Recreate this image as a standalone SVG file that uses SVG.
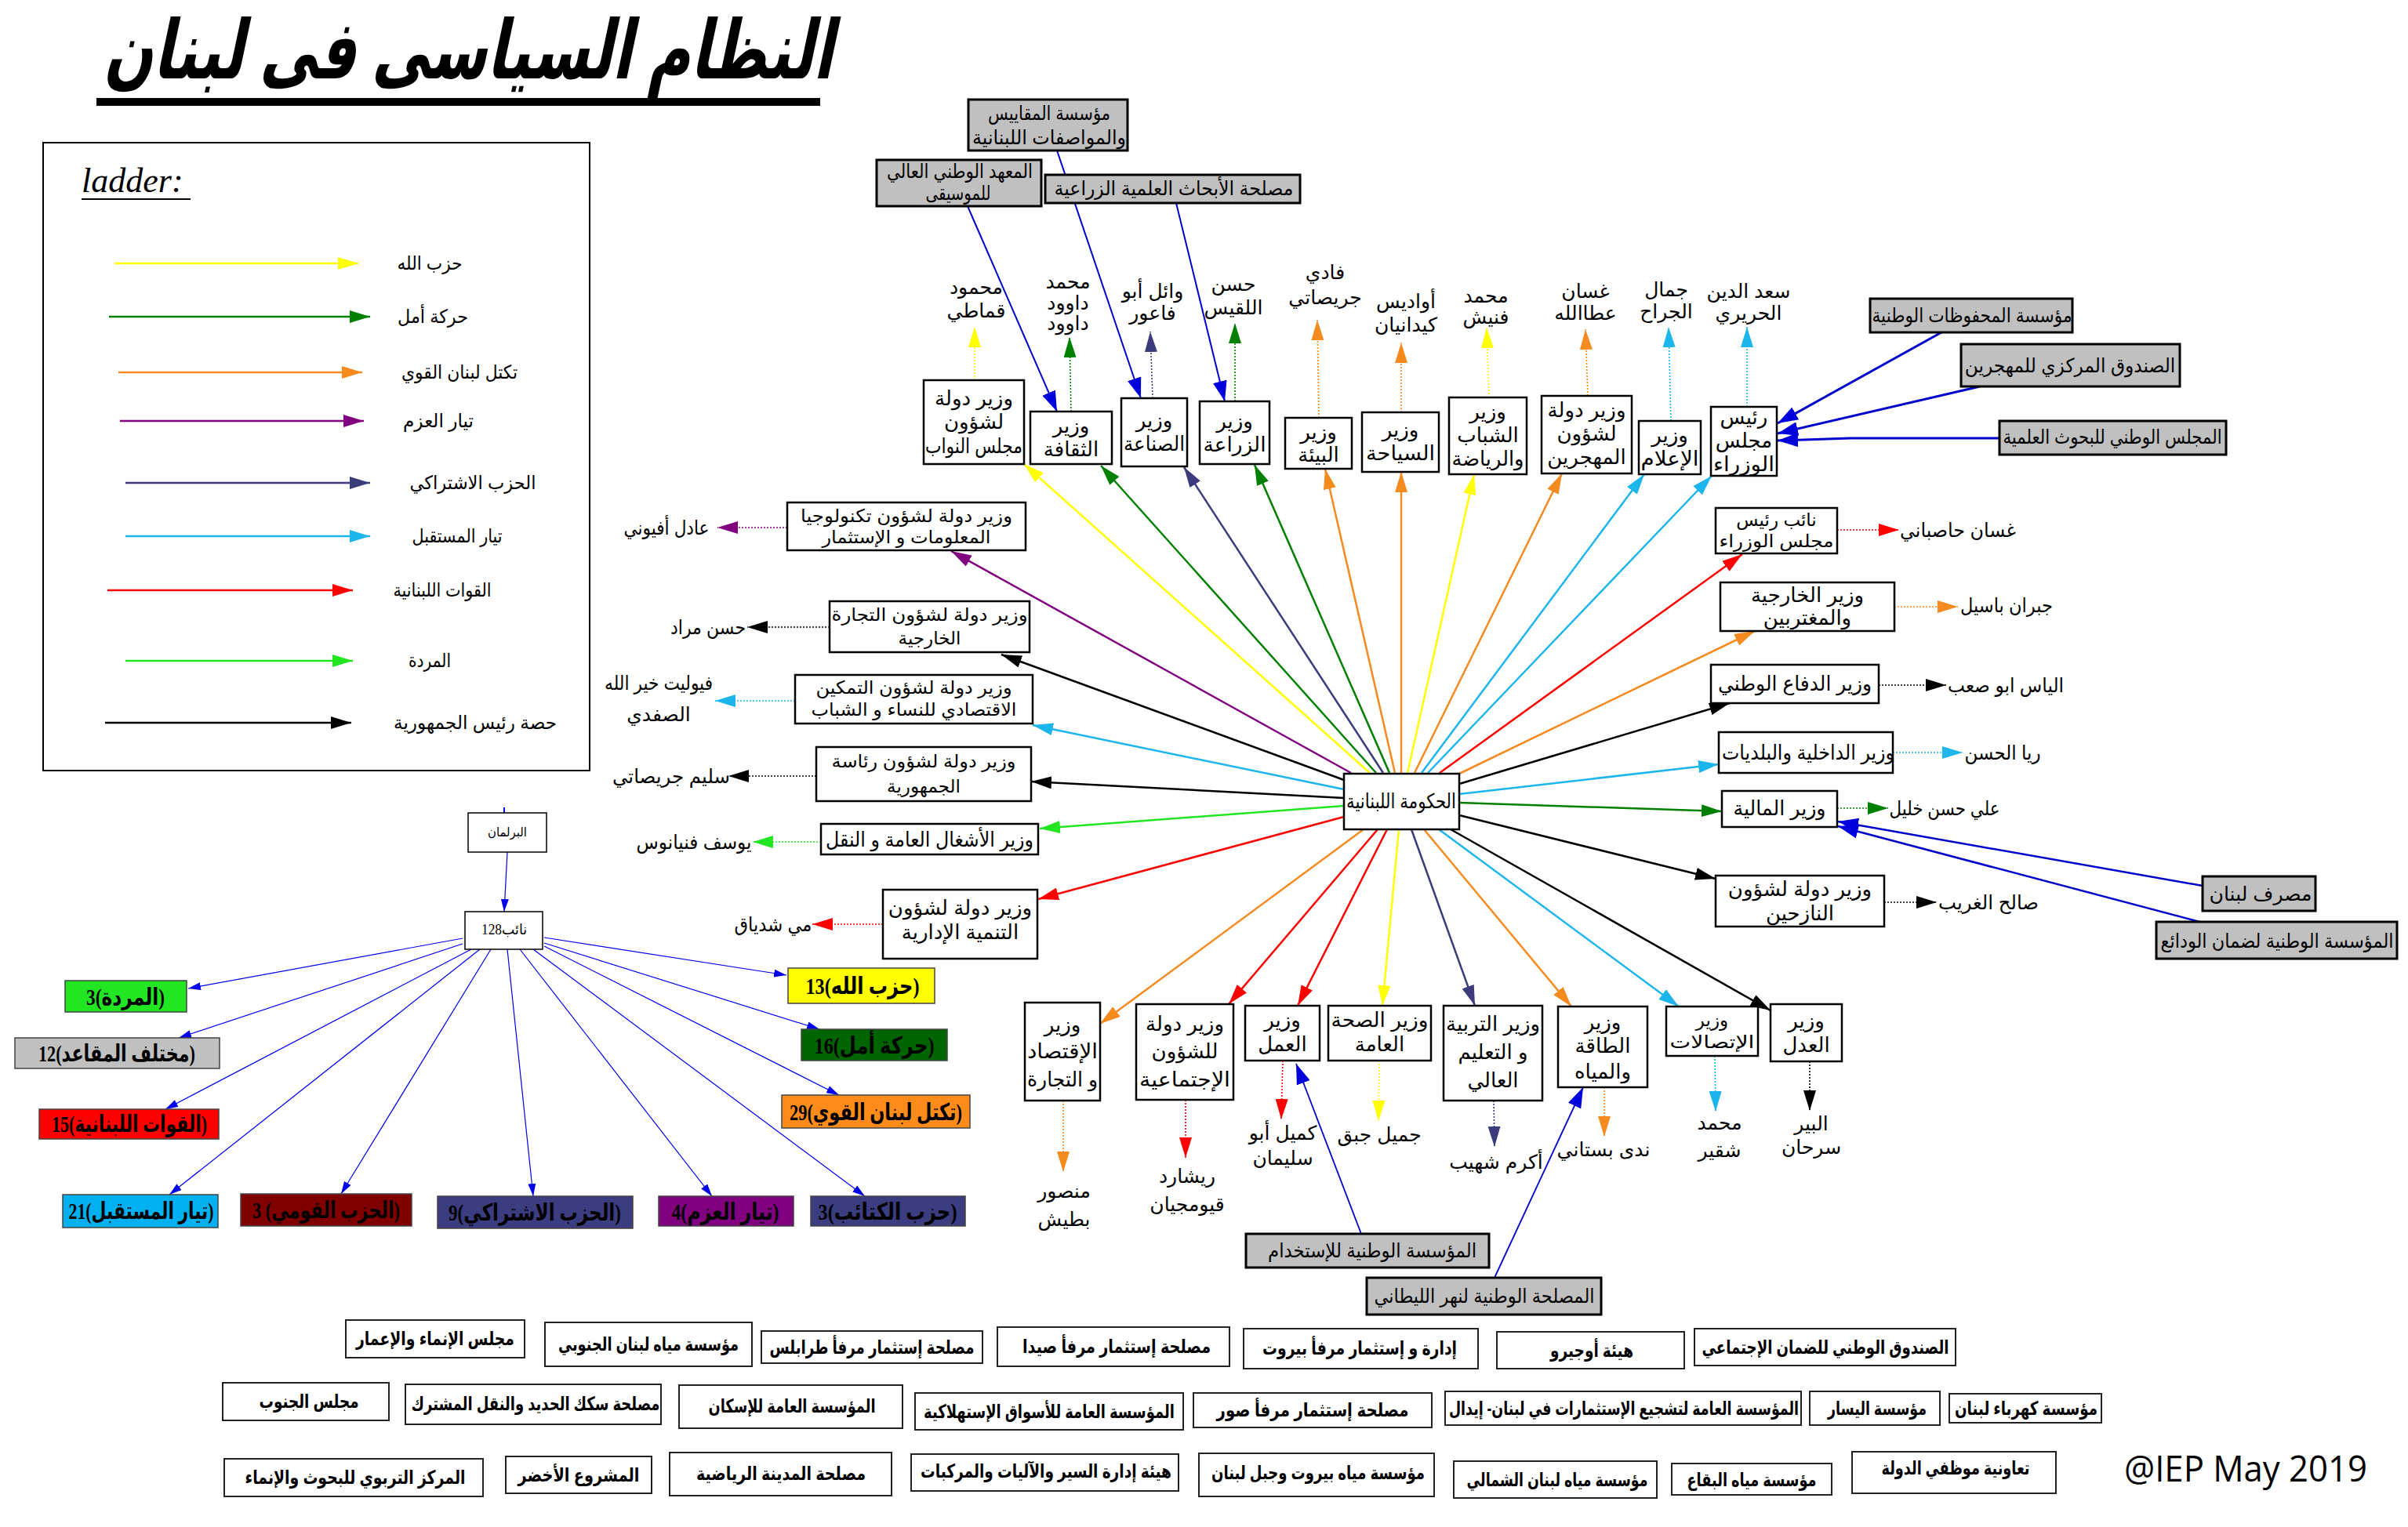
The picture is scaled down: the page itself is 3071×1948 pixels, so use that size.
<svg xmlns="http://www.w3.org/2000/svg" width="3071" height="1948" viewBox="0 0 3071 1948">
<style>
text{font-family:"Liberation Sans","DejaVu Sans",sans-serif;fill:#000;text-anchor:middle}
.box{fill:#fff;stroke:#000;stroke-width:2.5}
.gbox{fill:#c0c0c0;stroke:#000;stroke-width:3}
.lbox{fill:#fff;stroke:#222;stroke-width:2}
.t{font-size:26px}
.s{font-size:23px}
.n{font-size:25px}
.lg{font-size:24px}
.bl{font-size:24px;font-weight:bold}
.gt{font-size:25px}
.pt{font-family:"Liberation Serif","DejaVu Sans",serif;font-size:30px;font-weight:bold}
.e{fill:none;stroke-width:2.5}
.d{fill:none;stroke-width:1.6;stroke-dasharray:2 2}
.b{fill:none;stroke:#0000cc}
.pb{fill:none;stroke:#0000ee;stroke-width:1.2}
</style>
<defs>
<marker id="mY" viewBox="0 0 26 16" refX="26" refY="8" markerWidth="26" markerHeight="16" markerUnits="userSpaceOnUse" orient="auto"><path d="M0,0L26,8L0,16z" fill="#ffff00"/></marker>
<marker id="mG" viewBox="0 0 26 16" refX="26" refY="8" markerWidth="26" markerHeight="16" markerUnits="userSpaceOnUse" orient="auto"><path d="M0,0L26,8L0,16z" fill="#008000"/></marker>
<marker id="mO" viewBox="0 0 26 16" refX="26" refY="8" markerWidth="26" markerHeight="16" markerUnits="userSpaceOnUse" orient="auto"><path d="M0,0L26,8L0,16z" fill="#f58a1f"/></marker>
<marker id="mP" viewBox="0 0 26 16" refX="26" refY="8" markerWidth="26" markerHeight="16" markerUnits="userSpaceOnUse" orient="auto"><path d="M0,0L26,8L0,16z" fill="#800080"/></marker>
<marker id="mS" viewBox="0 0 26 16" refX="26" refY="8" markerWidth="26" markerHeight="16" markerUnits="userSpaceOnUse" orient="auto"><path d="M0,0L26,8L0,16z" fill="#3c3c7c"/></marker>
<marker id="mC" viewBox="0 0 26 16" refX="26" refY="8" markerWidth="26" markerHeight="16" markerUnits="userSpaceOnUse" orient="auto"><path d="M0,0L26,8L0,16z" fill="#1cb6ec"/></marker>
<marker id="mR" viewBox="0 0 26 16" refX="26" refY="8" markerWidth="26" markerHeight="16" markerUnits="userSpaceOnUse" orient="auto"><path d="M0,0L26,8L0,16z" fill="#ff0000"/></marker>
<marker id="mL" viewBox="0 0 26 16" refX="26" refY="8" markerWidth="26" markerHeight="16" markerUnits="userSpaceOnUse" orient="auto"><path d="M0,0L26,8L0,16z" fill="#22e622"/></marker>
<marker id="mK" viewBox="0 0 26 16" refX="26" refY="8" markerWidth="26" markerHeight="16" markerUnits="userSpaceOnUse" orient="auto"><path d="M0,0L26,8L0,16z" fill="#000"/></marker>
<marker id="mB" viewBox="0 0 26 18" refX="26" refY="9" markerWidth="26" markerHeight="18" markerUnits="userSpaceOnUse" orient="auto"><path d="M0,0L26,9L0,18z" fill="#0000dd"/></marker>
<marker id="mb" viewBox="0 0 16 10" refX="16" refY="5" markerWidth="16" markerHeight="10" markerUnits="userSpaceOnUse" orient="auto"><path d="M0,0L16,5L0,10z" fill="#0000ee"/></marker>
</defs>
<rect width="3071" height="1948" fill="#fff"/>

<g id="title">
<g transform="translate(597,100) skewX(-12)"><text x="0" y="0" font-size="104" font-weight="bold" textLength="930" lengthAdjust="spacingAndGlyphs">النظام السياسى فى لبنان</text></g>
<rect x="123" y="125" width="923" height="10" fill="#000"/>
</g>

<g id="legend">
<rect x="55" y="182" width="697" height="801" fill="none" stroke="#000" stroke-width="2"/>
<text x="104" y="245" font-size="44" style="text-anchor:start;font-family:'Liberation Serif',serif;font-style:italic">ladder:</text>
<line x1="104" y1="254" x2="243" y2="254" stroke="#000" stroke-width="2"/>
<path class="e" stroke="#ffff00" d="M146,336H457" marker-end="url(#mY)"/>
<path class="e" stroke="#008000" d="M139,404H472" marker-end="url(#mG)"/>
<path class="e" stroke="#f58a1f" d="M151,475H462" marker-end="url(#mO)"/>
<path class="e" stroke="#800080" d="M153,537H464" marker-end="url(#mP)" stroke-width="2"/>
<path class="e" stroke="#3c3c7c" d="M160,616H472" marker-end="url(#mS)" stroke-width="1.6"/>
<path class="e" stroke="#1cb6ec" d="M160,684H472" marker-end="url(#mC)"/>
<path class="e" stroke="#ff0000" d="M137,753H450" marker-end="url(#mR)" stroke-width="2"/>
<path class="e" stroke="#22e622" d="M160,843H450" marker-end="url(#mL)"/>
<path class="e" stroke="#000" d="M134,922H448" marker-end="url(#mK)"/>
<text class="lg" x="548" y="344" textLength="83" lengthAdjust="spacingAndGlyphs">حزب الله</text>
<text class="lg" x="552" y="412" textLength="90" lengthAdjust="spacingAndGlyphs">حركة أمل</text>
<text class="lg" x="586" y="483" textLength="148" lengthAdjust="spacingAndGlyphs">تكتل لبنان القوي</text>
<text class="lg" x="559" y="545" textLength="90" lengthAdjust="spacingAndGlyphs">تيار العزم</text>
<text class="lg" x="603" y="624" textLength="161" lengthAdjust="spacingAndGlyphs">الحزب الاشتراكي</text>
<text class="lg" x="583" y="692" textLength="115" lengthAdjust="spacingAndGlyphs">تيار المستقبل</text>
<text class="lg" x="564" y="761" textLength="125" lengthAdjust="spacingAndGlyphs">القوات اللبنانية</text>
<text class="lg" x="548" y="851" textLength="54" lengthAdjust="spacingAndGlyphs">المردة</text>
<text class="lg" x="606" y="930" textLength="208" lengthAdjust="spacingAndGlyphs">حصة رئيس الجمهورية</text>
</g>

<g id="edges">
<path class="e" stroke="#ffff00" d="M1747,986L1306,592" marker-end="url(#mY)"/>
<path class="e" stroke="#008000" d="M1755,986L1404,594" marker-end="url(#mG)"/>
<path class="e" stroke="#3c3c7c" d="M1764,986L1510,596" marker-end="url(#mS)" stroke-width="2"/>
<path class="e" stroke="#008000" d="M1772,986L1600,593" marker-end="url(#mG)"/>
<path class="e" stroke="#f58a1f" d="M1779,986L1690,598" marker-end="url(#mO)"/>
<path class="e" stroke="#f58a1f" d="M1787,986L1787,602" marker-end="url(#mO)"/>
<path class="e" stroke="#ffff00" d="M1795,986L1880,605" marker-end="url(#mY)"/>
<path class="e" stroke="#f58a1f" d="M1804,986L1992,604" marker-end="url(#mO)"/>
<path class="e" stroke="#1cb6ec" d="M1813,986L2097,605" marker-end="url(#mC)"/>
<path class="e" stroke="#1cb6ec" d="M1821,986L2183,607" marker-end="url(#mC)"/>
<path class="e" stroke="#800080" d="M1723,986L1213,703" marker-end="url(#mP)"/>
<path class="e" stroke="#000" d="M1714,995L1277,835" marker-end="url(#mK)"/>
<path class="e" stroke="#1cb6ec" d="M1714,1007L1317,925" marker-end="url(#mC)"/>
<path class="e" stroke="#000" d="M1714,1018L1315,997" marker-end="url(#mK)"/>
<path class="e" stroke="#22e622" d="M1714,1028L1326,1057" marker-end="url(#mL)"/>
<path class="e" stroke="#ff0000" d="M1714,1042L1324,1147" marker-end="url(#mR)" stroke-width="2"/>
<path class="e" stroke="#ff0000" d="M1836,986L2222,707" marker-end="url(#mR)" stroke-width="2"/>
<path class="e" stroke="#f58a1f" d="M1861,987L2238,805" marker-end="url(#mO)"/>
<path class="e" stroke="#000" d="M1861,1000L2206,897" marker-end="url(#mK)"/>
<path class="e" stroke="#1cb6ec" d="M1861,1013L2192,975" marker-end="url(#mC)"/>
<path class="e" stroke="#008000" d="M1861,1024L2196,1035" marker-end="url(#mG)"/>
<path class="e" stroke="#000" d="M1861,1040L2188,1121" marker-end="url(#mK)"/>
<path class="e" stroke="#f58a1f" d="M1739,1058L1403,1306" marker-end="url(#mO)"/>
<path class="e" stroke="#ff0000" d="M1757,1058L1567,1281" marker-end="url(#mR)" stroke-width="2"/>
<path class="e" stroke="#ff0000" d="M1769,1058L1655,1283" marker-end="url(#mR)" stroke-width="2"/>
<path class="e" stroke="#ffff00" d="M1784,1058L1763,1283" marker-end="url(#mY)"/>
<path class="e" stroke="#3c3c7c" d="M1800,1058L1881,1283" marker-end="url(#mS)" stroke-width="2"/>
<path class="e" stroke="#f58a1f" d="M1816,1058L2004,1284" marker-end="url(#mO)"/>
<path class="e" stroke="#1cb6ec" d="M1835,1058L2141,1284" marker-end="url(#mC)"/>
<path class="e" stroke="#000" d="M1850,1058L2258,1289" marker-end="url(#mK)"/>
<path class="d" stroke="#ffff00" d="M1243,485V417" marker-end="url(#mY)"/>
<path class="d" stroke="#008000" d="M1366,525L1364,430" marker-end="url(#mG)"/>
<path class="d" stroke="#3c3c7c" d="M1470,508L1467,423" marker-end="url(#mS)"/>
<path class="d" stroke="#008000" d="M1575,512V412" marker-end="url(#mG)"/>
<path class="d" stroke="#f58a1f" d="M1682,533L1680,408" marker-end="url(#mO)"/>
<path class="d" stroke="#f58a1f" d="M1787,526V437" marker-end="url(#mO)"/>
<path class="d" stroke="#ffff00" d="M1899,507L1896,418" marker-end="url(#mY)"/>
<path class="d" stroke="#f58a1f" d="M2025,505L2022,420" marker-end="url(#mO)"/>
<path class="d" stroke="#1cb6ec" d="M2131,537L2128,417" marker-end="url(#mC)"/>
<path class="d" stroke="#1cb6ec" d="M2228,519V417" marker-end="url(#mC)"/>
<path class="d" stroke="#800080" d="M1004,673H915" marker-end="url(#mP)"/>
<path class="d" stroke="#000" d="M1058,800H953" marker-end="url(#mK)"/>
<path class="d" stroke="#1cb6ec" d="M1014,894H912" marker-end="url(#mC)"/>
<path class="d" stroke="#000" d="M1041,990H929" marker-end="url(#mK)"/>
<path class="d" stroke="#22e622" d="M1047,1074H960" marker-end="url(#mL)"/>
<path class="d" stroke="#ff0000" d="M1126,1179H1036" marker-end="url(#mR)"/>
<path class="d" stroke="#ff0000" d="M2343,676H2422" marker-end="url(#mR)"/>
<path class="d" stroke="#f58a1f" d="M2416,774H2497" marker-end="url(#mO)"/>
<path class="d" stroke="#000" d="M2396,874H2482" marker-end="url(#mK)"/>
<path class="d" stroke="#1cb6ec" d="M2414,960H2503" marker-end="url(#mC)"/>
<path class="d" stroke="#008000" d="M2343,1031H2408" marker-end="url(#mG)"/>
<path class="d" stroke="#000" d="M2403,1151H2470" marker-end="url(#mK)"/>
<path class="d" stroke="#f58a1f" d="M1356,1404V1495" marker-end="url(#mO)"/>
<path class="d" stroke="#ff0000" d="M1512,1403V1477" marker-end="url(#mR)"/>
<path class="d" stroke="#ff0000" d="M1636,1353L1634,1428" marker-end="url(#mR)"/>
<path class="d" stroke="#ffff00" d="M1759,1353L1758,1430" marker-end="url(#mY)"/>
<path class="d" stroke="#3c3c7c" d="M1905,1404L1906,1463" marker-end="url(#mS)"/>
<path class="d" stroke="#f58a1f" d="M2046,1387V1450" marker-end="url(#mO)"/>
<path class="d" stroke="#1cb6ec" d="M2187,1347L2188,1418" marker-end="url(#mC)"/>
<path class="d" stroke="#000" d="M2308,1354V1417" marker-end="url(#mK)"/>
<path class="b" stroke-width="2" d="M1234,263L1348,525" marker-end="url(#mB)"/>
<path class="b" stroke-width="2" d="M1348,192L1455,508" marker-end="url(#mB)"/>
<path class="b" stroke-width="2" d="M1500,259L1562,512" marker-end="url(#mB)"/>
<path class="b" stroke-width="3" d="M2476,424L2267,540" marker-end="url(#mB)"/>
<path class="b" stroke-width="3" d="M2525,493L2267,553" marker-end="url(#mB)"/>
<path class="b" stroke-width="3" d="M2550,559H2360L2267,562" marker-end="url(#mB)"/>
<path class="b" stroke-width="2.5" d="M2809,1130L2344,1048" marker-end="url(#mB)"/>
<path class="b" stroke-width="2.5" d="M2813,1178L2344,1054" marker-end="url(#mB)"/>
<path class="b" stroke-width="1.8" d="M1736,1574L1653,1357" marker-end="url(#mB)"/>
<path class="b" stroke-width="1.8" d="M1906,1630L2019,1387" marker-end="url(#mB)"/>
<line x1="643" y1="1030" x2="643" y2="1037" stroke="#0000ee" stroke-width="2"/>
<path class="pb" d="M647,1087L643,1163" marker-end="url(#mb)"/>
<path class="pb" d="M694,1196L1003,1244" marker-end="url(#mb)"/>
<path class="pb" d="M694,1203L1045,1313" marker-end="url(#mb)"/>
<path class="pb" d="M694,1207L1070,1397" marker-end="url(#mb)"/>
<path class="pb" d="M680,1211L1103,1526" marker-end="url(#mb)"/>
<path class="pb" d="M663,1211L908,1526" marker-end="url(#mb)"/>
<path class="pb" d="M647,1211L680,1526" marker-end="url(#mb)"/>
<path class="pb" d="M626,1211L435,1523" marker-end="url(#mb)"/>
<path class="pb" d="M612,1211L216,1524" marker-end="url(#mb)"/>
<path class="pb" d="M601,1211L211,1415" marker-end="url(#mb)"/>
<path class="pb" d="M590,1204L228,1324" marker-end="url(#mb)"/>
<path class="pb" d="M590,1197L240,1261" marker-end="url(#mb)"/>
</g>

<g id="gov"><rect class="box" x="1714" y="987" width="147" height="71"/><text class="t" x="1787" y="1031" textLength="140" lengthAdjust="spacingAndGlyphs">الحكومة اللبنانية</text></g>

<g id="m_nawab"><rect class="box" x="1178" y="485" width="128" height="107"/><text class="t" x="1242" y="517">وزير دولة</text><text class="t" x="1242" y="547">لشؤون</text><text class="t" x="1242" y="578" textLength="124" lengthAdjust="spacingAndGlyphs">مجلس النواب</text></g>
<g id="m_thaqafa"><rect class="box" x="1314" y="525" width="104" height="67"/><text class="t" x="1366" y="552">وزير</text><text class="t" x="1366" y="582">الثقافة</text></g>
<g id="m_sinaa"><rect class="box" x="1430" y="508" width="84" height="87"/><text class="t" x="1472" y="545">وزير</text><text class="t" x="1472" y="575" textLength="78" lengthAdjust="spacingAndGlyphs">الصناعة</text></g>
<g id="m_ziraa"><rect class="box" x="1530" y="512" width="89" height="80"/><text class="t" x="1574.5" y="546">وزير</text><text class="t" x="1574.5" y="576" textLength="80" lengthAdjust="spacingAndGlyphs">الزراعة</text></g>
<g id="m_biaa"><rect class="box" x="1639" y="533" width="85" height="65"/><text class="t" x="1681.5" y="560">وزير</text><text class="t" x="1681.5" y="589">البيئة</text></g>
<g id="m_siyaha"><rect class="box" x="1737" y="526" width="98" height="76"/><text class="t" x="1786" y="557">وزير</text><text class="t" x="1786" y="587" textLength="88" lengthAdjust="spacingAndGlyphs">السياحة</text></g>
<g id="m_shabab"><rect class="box" x="1848" y="507" width="99" height="98"/><text class="t" x="1897.5" y="534">وزير</text><text class="t" x="1897.5" y="564">الشباب</text><text class="t" x="1897.5" y="594" textLength="92" lengthAdjust="spacingAndGlyphs">والرياضة</text></g>
<g id="m_muhajjarin"><rect class="box" x="1966" y="505" width="115" height="99"/><text class="t" x="2023.5" y="532">وزير دولة</text><text class="t" x="2023.5" y="562">لشؤون</text><text class="t" x="2023.5" y="592">المهجرين</text></g>
<g id="m_ilam"><rect class="box" x="2090" y="537" width="79" height="68"/><text class="t" x="2129.5" y="564">وزير</text><text class="t" x="2129.5" y="594" textLength="74" lengthAdjust="spacingAndGlyphs">الإعلام</text></g>
<g id="m_rais"><rect class="box" x="2182" y="519" width="84" height="88"/><text class="t" x="2224" y="541">رئيس</text><text class="t" x="2224" y="571">مجلس</text><text class="t" x="2224" y="601" textLength="78" lengthAdjust="spacingAndGlyphs">الوزراء</text></g>

<g id="p_qamati"><text class="n" x="1245" y="375">محمود</text><text class="n" x="1245" y="405">قماطي</text></g>
<g id="p_daoud"><text class="n" x="1362" y="368">محمد</text><text class="n" x="1362" y="395">داوود</text><text class="n" x="1362" y="421">داوود</text></g>
<g id="p_abufaour"><text class="n" x="1470" y="380">وائل أبو</text><text class="n" x="1470" y="408">فاعور</text></g>
<g id="p_laqis"><text class="n" x="1573" y="371">حسن</text><text class="n" x="1573" y="401">اللقيس</text></g>
<g id="p_fadi"><text class="n" x="1690" y="356">فادي</text><text class="n" x="1690" y="388">جريصاتي</text></g>
<g id="p_kidanian"><text class="n" x="1793" y="393">أواديس</text><text class="n" x="1793" y="423">كيدانيان</text></g>
<g id="p_fneish"><text class="n" x="1895" y="386">محمد</text><text class="n" x="1895" y="413">فنيش</text></g>
<g id="p_atallah"><text class="n" x="2022" y="380">غسان</text><text class="n" x="2022" y="408">عطاالله</text></g>
<g id="p_jarrah"><text class="n" x="2125" y="378">جمال</text><text class="n" x="2125" y="406">الجراح</text></g>
<g id="p_hariri"><text class="n" x="2230" y="380">سعد الدين</text><text class="n" x="2230" y="408">الحريري</text></g>

<g id="m_tech"><rect class="box" x="1004" y="641" width="304" height="61"/><text class="s" x="1156" y="666" textLength="270" lengthAdjust="spacingAndGlyphs">وزير دولة لشؤون تكنولوجيا</text><text class="s" x="1156" y="693" textLength="215" lengthAdjust="spacingAndGlyphs">المعلومات و الإستثمار</text></g>
<g id="m_tijara"><rect class="box" x="1058" y="767" width="255" height="65"/><text class="s" x="1185.5" y="792" textLength="250" lengthAdjust="spacingAndGlyphs">وزير دولة لشؤون التجارة</text><text class="s" x="1185.5" y="822">الخارجية</text></g>
<g id="m_tamkin"><rect class="box" x="1014" y="861" width="303" height="62"/><text class="s" x="1165.5" y="885" textLength="250" lengthAdjust="spacingAndGlyphs">وزير دولة لشؤون التمكين</text><text class="s" x="1165.5" y="913" textLength="262" lengthAdjust="spacingAndGlyphs">الاقتصادي للنساء و الشباب</text></g>
<g id="m_riasa"><rect class="box" x="1041" y="953" width="274" height="69"/><text class="s" x="1178" y="979" textLength="235" lengthAdjust="spacingAndGlyphs">وزير دولة لشؤون رئاسة</text><text class="s" x="1178" y="1011">الجمهورية</text></g>
<g id="m_ashghal"><rect class="box" x="1047" y="1051" width="277" height="39"/><text class="t" x="1185.5" y="1080" textLength="265" lengthAdjust="spacingAndGlyphs">وزير الأشغال العامة و النقل</text></g>
<g id="m_tanmia"><rect class="box" x="1126" y="1135" width="197" height="88"/><text class="t" x="1224.5" y="1167">وزير دولة لشؤون</text><text class="t" x="1224.5" y="1198">التنمية الإدارية</text></g>

<g id="p_afiouni"><text class="n" x="850" y="682" textLength="109" lengthAdjust="spacingAndGlyphs">عادل أفيوني</text></g>
<g id="p_mrad"><text class="n" x="903" y="809" textLength="96" lengthAdjust="spacingAndGlyphs">حسن مراد</text></g>
<g id="p_safadi"><text class="n" x="840" y="880" textLength="138" lengthAdjust="spacingAndGlyphs">فيوليت خير الله</text><text class="n" x="840" y="920">الصفدي</text></g>
<g id="p_salim"><text class="n" x="856" y="999" textLength="150" lengthAdjust="spacingAndGlyphs">سليم جريصاتي</text></g>
<g id="p_fenianos"><text class="n" x="885" y="1083" textLength="147" lengthAdjust="spacingAndGlyphs">يوسف فنيانوس</text></g>
<g id="p_chidiac"><text class="n" x="986" y="1188" textLength="99" lengthAdjust="spacingAndGlyphs">مي شدياق</text></g>

<g id="m_naib"><rect class="box" x="2188" y="648" width="155" height="58"/><text class="s" x="2265.5" y="671">نائب رئيس</text><text class="s" x="2265.5" y="698" textLength="146" lengthAdjust="spacingAndGlyphs">مجلس الوزراء</text></g>
<g id="m_kharijia"><rect class="box" x="2194" y="743" width="222" height="62"/><text class="t" x="2305" y="768">وزير الخارجية</text><text class="t" x="2305" y="797">والمغتربين</text></g>
<g id="m_difaa"><rect class="box" x="2182" y="848" width="214" height="49"/><text class="t" x="2289" y="881" textLength="196" lengthAdjust="spacingAndGlyphs">وزير الدفاع الوطني</text></g>
<g id="m_dakhilia"><rect class="box" x="2192" y="934" width="222" height="52"/><text class="t" x="2306" y="969" textLength="220" lengthAdjust="spacingAndGlyphs">وزير الداخلية والبلديات</text></g>
<g id="m_maliya"><rect class="box" x="2196" y="1009" width="147" height="46"/><text class="t" x="2269.5" y="1040" textLength="118" lengthAdjust="spacingAndGlyphs">وزير المالية</text></g>
<g id="m_nazihin"><rect class="box" x="2188" y="1117" width="215" height="65"/><text class="t" x="2295.5" y="1143">وزير دولة لشؤون</text><text class="t" x="2295.5" y="1174">النازحين</text></g>

<g id="p_hasbani"><text class="n" x="2497" y="685" textLength="148" lengthAdjust="spacingAndGlyphs">غسان حاصباني</text></g>
<g id="p_bassil"><text class="n" x="2559" y="781" textLength="118" lengthAdjust="spacingAndGlyphs">جبران باسيل</text></g>
<g id="p_abusaab"><text class="n" x="2558" y="883" textLength="148" lengthAdjust="spacingAndGlyphs">الياس ابو صعب</text></g>
<g id="p_hassan"><text class="n" x="2554" y="969" textLength="97" lengthAdjust="spacingAndGlyphs">ريا الحسن</text></g>
<g id="p_khalil"><text class="n" x="2480" y="1040" textLength="141" lengthAdjust="spacingAndGlyphs">علي حسن خليل</text></g>
<g id="p_gharib"><text class="n" x="2536" y="1160" textLength="128" lengthAdjust="spacingAndGlyphs">صالح الغريب</text></g>

<g id="m_iqtisad"><rect class="box" x="1307" y="1279" width="96" height="125"/><text class="t" x="1355" y="1316">وزير</text><text class="t" x="1355" y="1350" textLength="90" lengthAdjust="spacingAndGlyphs">الإقتصاد</text><text class="t" x="1355" y="1386" textLength="90" lengthAdjust="spacingAndGlyphs">و التجارة</text></g>
<g id="m_ijtimaia"><rect class="box" x="1449" y="1281" width="124" height="122"/><text class="t" x="1511" y="1315">وزير دولة</text><text class="t" x="1511" y="1350">للشؤون</text><text class="t" x="1511" y="1386" textLength="116" lengthAdjust="spacingAndGlyphs">الإجتماعية</text></g>
<g id="m_amal"><rect class="box" x="1588" y="1283" width="95" height="70"/><text class="t" x="1635.5" y="1310">وزير</text><text class="t" x="1635.5" y="1341">العمل</text></g>
<g id="m_siha"><rect class="box" x="1694" y="1283" width="131" height="70"/><text class="t" x="1759.5" y="1310" textLength="124" lengthAdjust="spacingAndGlyphs">وزير الصحة</text><text class="t" x="1759.5" y="1341">العامة</text></g>
<g id="m_tarbia"><rect class="box" x="1841" y="1283" width="126" height="121"/><text class="t" x="1904" y="1315" textLength="120" lengthAdjust="spacingAndGlyphs">وزير التربية</text><text class="t" x="1904" y="1351">و التعليم</text><text class="t" x="1904" y="1387">العالي</text></g>
<g id="m_taqa"><rect class="box" x="1987" y="1284" width="114" height="103"/><text class="t" x="2044" y="1313">وزير</text><text class="t" x="2044" y="1343">الطاقة</text><text class="t" x="2044" y="1376">والمياه</text></g>
<g id="m_ittisalat"><rect class="box" x="2125" y="1284" width="117" height="63"/><text class="s" x="2183.5" y="1309">وزير</text><text class="s" x="2183.5" y="1337" textLength="108" lengthAdjust="spacingAndGlyphs">الإتصالات</text></g>
<g id="m_adl"><rect class="box" x="2258" y="1281" width="91" height="73"/><text class="t" x="2303.5" y="1311">وزير</text><text class="t" x="2303.5" y="1342">العدل</text></g>

<g id="p_btaish"><text class="n" x="1357" y="1528">منصور</text><text class="n" x="1357" y="1564">بطيش</text></g>
<g id="p_kouyoumjian"><text class="n" x="1514" y="1509">ريشارد</text><text class="n" x="1514" y="1545">قيومجيان</text></g>
<g id="p_abusleiman"><text class="n" x="1636" y="1454">كميل أبو</text><text class="n" x="1636" y="1486">سليمان</text></g>
<g id="p_jabak"><text class="n" x="1759" y="1456">جميل جبق</text></g>
<g id="p_chehayeb"><text class="n" x="1908" y="1491">أكرم شهيب</text></g>
<g id="p_boustani"><text class="n" x="2045" y="1475">ندى بستاني</text></g>
<g id="p_choucair"><text class="n" x="2193" y="1441">محمد</text><text class="n" x="2193" y="1476">شقير</text></g>
<g id="p_serhan"><text class="n" x="2310" y="1442">البير</text><text class="n" x="2310" y="1472">سرحان</text></g>

<g id="g_maqayis"><rect class="gbox" x="1235" y="127" width="203" height="65"/><text class="gt" x="1338" y="153" textLength="156" lengthAdjust="spacingAndGlyphs">مؤسسة المقاييس</text><text class="gt" x="1338" y="184" textLength="196" lengthAdjust="spacingAndGlyphs">والمواصفات اللبنانية</text></g>
<g id="g_music"><rect class="gbox" x="1118" y="204" width="210" height="59"/><text class="gt" x="1224" y="227" textLength="186" lengthAdjust="spacingAndGlyphs">المعهد الوطني العالي</text><text class="gt" x="1222" y="255" textLength="83" lengthAdjust="spacingAndGlyphs">للموسيقى</text></g>
<g id="g_abhath"><rect class="gbox" x="1333" y="223" width="325" height="36"/><text class="gt" x="1497" y="249" textLength="305" lengthAdjust="spacingAndGlyphs">مصلحة الأبحاث العلمية الزراعية</text></g>
<g id="g_mahfuzat"><rect class="gbox" x="2385" y="381" width="258" height="43"/><text class="gt" transform="translate(2515,411) scale(0.85,1)" x="0" y="0" textLength="300" lengthAdjust="spacingAndGlyphs">مؤسسة المحفوظات الوطنية</text></g>
<g id="g_sunduq"><rect class="gbox" x="2501" y="439" width="279" height="54"/><text class="gt" transform="translate(2640,475) scale(0.85,1)" x="0" y="0" textLength="316" lengthAdjust="spacingAndGlyphs">الصندوق المركزي للمهجرين</text></g>
<g id="g_bouhouth"><rect class="gbox" x="2550" y="537" width="289" height="43"/><text class="gt" transform="translate(2694,566) scale(0.8,1)" x="0" y="0" textLength="349" lengthAdjust="spacingAndGlyphs">المجلس الوطني للبحوث العلمية</text></g>
<g id="g_masraf"><rect class="gbox" x="2809" y="1118" width="144" height="44"/><text class="gt" x="2883" y="1149" textLength="131" lengthAdjust="spacingAndGlyphs">مصرف لبنان</text></g>
<g id="g_wadaea"><rect class="gbox" x="2750" y="1176" width="307" height="47"/><text class="gt" transform="translate(2904,1209) scale(0.75,1)" x="0" y="0" textLength="396" lengthAdjust="spacingAndGlyphs">المؤسسة الوطنية لضمان الودائع</text></g>
<g id="g_istikhdam"><rect class="gbox" x="1589" y="1574" width="310" height="43"/><text class="gt" x="1750" y="1604" textLength="266" lengthAdjust="spacingAndGlyphs">المؤسسة الوطنية للإستخدام</text></g>
<g id="g_litani"><rect class="gbox" x="1743" y="1630" width="299" height="47"/><text class="gt" x="1893" y="1662" textLength="281" lengthAdjust="spacingAndGlyphs">المصلحة الوطنية لنهر الليطاني</text></g>

<g id="parl"><rect x="597" y="1037" width="100" height="50" fill="#fff" stroke="#000" stroke-width="1.5"/><text x="647" y="1067" font-size="16" textLength="50" lengthAdjust="spacingAndGlyphs">البرلمان</text></g>
<g id="deputies"><rect x="593" y="1163" width="99" height="48" fill="#fff" stroke="#000" stroke-width="1.5"/><text x="643" y="1192" style="font-family:'Liberation Serif','DejaVu Sans',serif;font-size:18px" textLength="58" lengthAdjust="spacingAndGlyphs">128نائب</text></g>
<g id="pty_marada"><rect x="83" y="1251" width="155" height="40" fill="#22e622" stroke="#444" stroke-width="1.5"/><text class="pt" x="160" y="1282" textLength="100" lengthAdjust="spacingAndGlyphs">3(المردة)</text></g>
<g id="pty_mixed"><rect x="19" y="1324" width="261" height="39" fill="#c0c0c0" stroke="#444" stroke-width="1.5"/><text class="pt" x="149" y="1354" textLength="200" lengthAdjust="spacingAndGlyphs">12(مختلف المقاعد)</text></g>
<g id="pty_lf"><rect x="50" y="1415" width="229" height="38" fill="#ff0000" stroke="#444" stroke-width="1.5"/><text class="pt" x="165" y="1444" textLength="198" lengthAdjust="spacingAndGlyphs">15(القوات اللبنانية)</text></g>
<g id="pty_mustaqbal"><rect x="80" y="1524" width="198" height="42" fill="#00b0f0" stroke="#444" stroke-width="1.5"/><text class="pt" x="180" y="1555" textLength="185" lengthAdjust="spacingAndGlyphs">21(تيار المستقبل)</text></g>
<g id="pty_qawmi"><rect x="307" y="1523" width="218" height="41" fill="#800000" stroke="#444" stroke-width="1.5"/><text class="pt" x="416" y="1554" textLength="188" lengthAdjust="spacingAndGlyphs">3 (الحزب القومي)</text></g>
<g id="pty_ishtiraki"><rect x="558" y="1526" width="249" height="41" fill="#3c3c80" stroke="#444" stroke-width="1.5"/><text class="pt" x="682" y="1557" textLength="220" lengthAdjust="spacingAndGlyphs">9(الحزب الاشتراكي)</text></g>
<g id="pty_azm"><rect x="840" y="1526" width="172" height="38" fill="#800080" stroke="#444" stroke-width="1.5"/><text class="pt" x="925" y="1556" textLength="137" lengthAdjust="spacingAndGlyphs">4(تيار العزم)</text></g>
<g id="pty_kataeb"><rect x="1034" y="1526" width="197" height="38" fill="#3c3c80" stroke="#444" stroke-width="1.5"/><text class="pt" x="1132" y="1556" textLength="177" lengthAdjust="spacingAndGlyphs">3(حزب الكتائب)</text></g>
<g id="pty_hezbollah"><rect x="1005" y="1235" width="187" height="45" fill="#ffff00" stroke="#444" stroke-width="1.5"/><text class="pt" x="1100" y="1268" textLength="145" lengthAdjust="spacingAndGlyphs">13(حزب الله)</text></g>
<g id="pty_amal"><rect x="1022" y="1313" width="186" height="40" fill="#006400" stroke="#444" stroke-width="1.5"/><text class="pt" x="1115" y="1344" textLength="153" lengthAdjust="spacingAndGlyphs">16(حركة أمل)</text></g>
<g id="pty_tayyar"><rect x="997" y="1397" width="240" height="42" fill="#ff8c1a" stroke="#444" stroke-width="1.5"/><text class="pt" x="1117" y="1429" textLength="220" lengthAdjust="spacingAndGlyphs">29(تكتل لبنان القوي)</text></g>

<g id="i01"><rect class="lbox" x="441" y="1684" width="228" height="48"/><text class="bl" transform="translate(555,1716) scale(0.7,1)" x="0" y="0" textLength="288.6" lengthAdjust="spacingAndGlyphs">مجلس الإنماء والإعمار</text></g>
<g id="i02"><rect class="lbox" x="695" y="1687" width="264" height="56"/><text class="bl" transform="translate(827,1723) scale(0.7,1)" x="0" y="0" textLength="328.6" lengthAdjust="spacingAndGlyphs">مؤسسة مياه لبنان الجنوبي</text></g>
<g id="i03"><rect class="lbox" x="971" y="1698" width="282" height="41"/><text class="bl" transform="translate(1112,1727) scale(0.7,1)" x="0" y="0" textLength="372.9" lengthAdjust="spacingAndGlyphs">مصلحة إستثمار مرفأ طرابلس</text></g>
<g id="i04"><rect class="lbox" x="1272" y="1693" width="296" height="50"/><text class="bl" transform="translate(1424,1726) scale(0.7,1)" x="0" y="0" textLength="342.9" lengthAdjust="spacingAndGlyphs">مصلحة إستثمار مرفأ صيدا</text></g>
<g id="i05"><rect class="lbox" x="1586" y="1695" width="299" height="51"/><text class="bl" transform="translate(1734,1728) scale(0.7,1)" x="0" y="0" textLength="354.3" lengthAdjust="spacingAndGlyphs">إدارة و إستثمار مرفأ بيروت</text></g>
<g id="i06"><rect class="lbox" x="1909" y="1699" width="239" height="47"/><text class="bl" transform="translate(2030,1731) scale(0.7,1)" x="0" y="0" textLength="151.4" lengthAdjust="spacingAndGlyphs">هيئة أوجيرو</text></g>
<g id="i07"><rect class="lbox" x="2161" y="1695" width="333" height="47"/><text class="bl" transform="translate(2328,1727) scale(0.7,1)" x="0" y="0" textLength="450" lengthAdjust="spacingAndGlyphs">الصندوق الوطني للضمان الإجتماعي</text></g>
<g id="i08"><rect class="lbox" x="284" y="1764" width="212" height="48"/><text class="bl" transform="translate(394,1796) scale(0.7,1)" x="0" y="0" textLength="181.4" lengthAdjust="spacingAndGlyphs">مجلس الجنوب</text></g>
<g id="i09"><rect class="lbox" x="517" y="1766" width="326" height="51"/><text class="bl" transform="translate(683,1799) scale(0.7,1)" x="0" y="0" textLength="452.9" lengthAdjust="spacingAndGlyphs">مصلحة سكك الحديد والنقل المشترك</text></g>
<g id="i10"><rect class="lbox" x="866" y="1767" width="285" height="55"/><text class="bl" transform="translate(1010,1802) scale(0.7,1)" x="0" y="0" textLength="304.3" lengthAdjust="spacingAndGlyphs">المؤسسة العامة للإسكان</text></g>
<g id="i11"><rect class="lbox" x="1167" y="1777" width="342" height="47"/><text class="bl" transform="translate(1338,1809) scale(0.7,1)" x="0" y="0" textLength="457.1" lengthAdjust="spacingAndGlyphs">المؤسسة العامة للأسواق الإستهلاكية</text></g>
<g id="i12"><rect class="lbox" x="1522" y="1777" width="304" height="44"/><text class="bl" transform="translate(1674,1807) scale(0.7,1)" x="0" y="0" textLength="350" lengthAdjust="spacingAndGlyphs">مصلحة إستثمار مرفأ صور</text></g>
<g id="i13"><rect class="lbox" x="1843" y="1775" width="454" height="43"/><text class="bl" transform="translate(2071,1805) scale(0.68,1)" x="0" y="0" textLength="656" lengthAdjust="spacingAndGlyphs">المؤسسة العامة لتشجيع الإستثمارات في لبنان- إيدال</text></g>
<g id="i14"><rect class="lbox" x="2308" y="1775" width="166" height="43"/><text class="bl" transform="translate(2394,1805) scale(0.7,1)" x="0" y="0" textLength="180" lengthAdjust="spacingAndGlyphs">مؤسسة اليسار</text></g>
<g id="i15"><rect class="lbox" x="2486" y="1778" width="194" height="37"/><text class="bl" transform="translate(2584,1805) scale(0.7,1)" x="0" y="0" textLength="260" lengthAdjust="spacingAndGlyphs">مؤسسة كهرباء لبنان</text></g>
<g id="i16"><rect class="lbox" x="286" y="1861" width="330" height="48"/><text class="bl" transform="translate(453,1893) scale(0.7,1)" x="0" y="0" textLength="401.4" lengthAdjust="spacingAndGlyphs">المركز التربوي للبحوث والإنماء</text></g>
<g id="i17"><rect class="lbox" x="645" y="1858" width="186" height="47"/><text class="bl" transform="translate(738,1890) scale(0.7,1)" x="0" y="0" textLength="221.4" lengthAdjust="spacingAndGlyphs">المشروع الأخضر</text></g>
<g id="i18"><rect class="lbox" x="854" y="1853" width="283" height="55"/><text class="bl" transform="translate(996,1888) scale(0.7,1)" x="0" y="0" textLength="308.6" lengthAdjust="spacingAndGlyphs">مصلحة المدينة الرياضية</text></g>
<g id="i19"><rect class="lbox" x="1162" y="1855" width="341" height="47"/><text class="bl" transform="translate(1334,1885) scale(0.7,1)" x="0" y="0" textLength="457.1" lengthAdjust="spacingAndGlyphs">هيئة إدارة السير والآليات والمركبات</text></g>
<g id="i20"><rect class="lbox" x="1529" y="1854" width="300" height="55"/><text class="bl" transform="translate(1681,1887) scale(0.7,1)" x="0" y="0" textLength="388.6" lengthAdjust="spacingAndGlyphs">مؤسسة مياه بيروت وجبل لبنان</text></g>
<g id="i21"><rect class="lbox" x="1854" y="1864" width="259" height="47"/><text class="bl" transform="translate(1986,1896) scale(0.7,1)" x="0" y="0" textLength="330" lengthAdjust="spacingAndGlyphs">مؤسسة مياه لبنان الشمالي</text></g>
<g id="i22"><rect class="lbox" x="2132" y="1867" width="204" height="40"/><text class="bl" transform="translate(2234,1896) scale(0.7,1)" x="0" y="0" textLength="235.7" lengthAdjust="spacingAndGlyphs">مؤسسة مياه البقاع</text></g>
<g id="i23"><rect class="lbox" x="2362" y="1852" width="260" height="53"/><text class="bl" transform="translate(2494,1881) scale(0.7,1)" x="0" y="0" textLength="270" lengthAdjust="spacingAndGlyphs">تعاونية موظفي الدولة</text></g>

<g id="credit"><text x="2864" y="1890" style="font-family:'Open Sans',sans-serif;font-size:46px" textLength="310" lengthAdjust="spacingAndGlyphs">@IEP May 2019</text></g>
</svg>
